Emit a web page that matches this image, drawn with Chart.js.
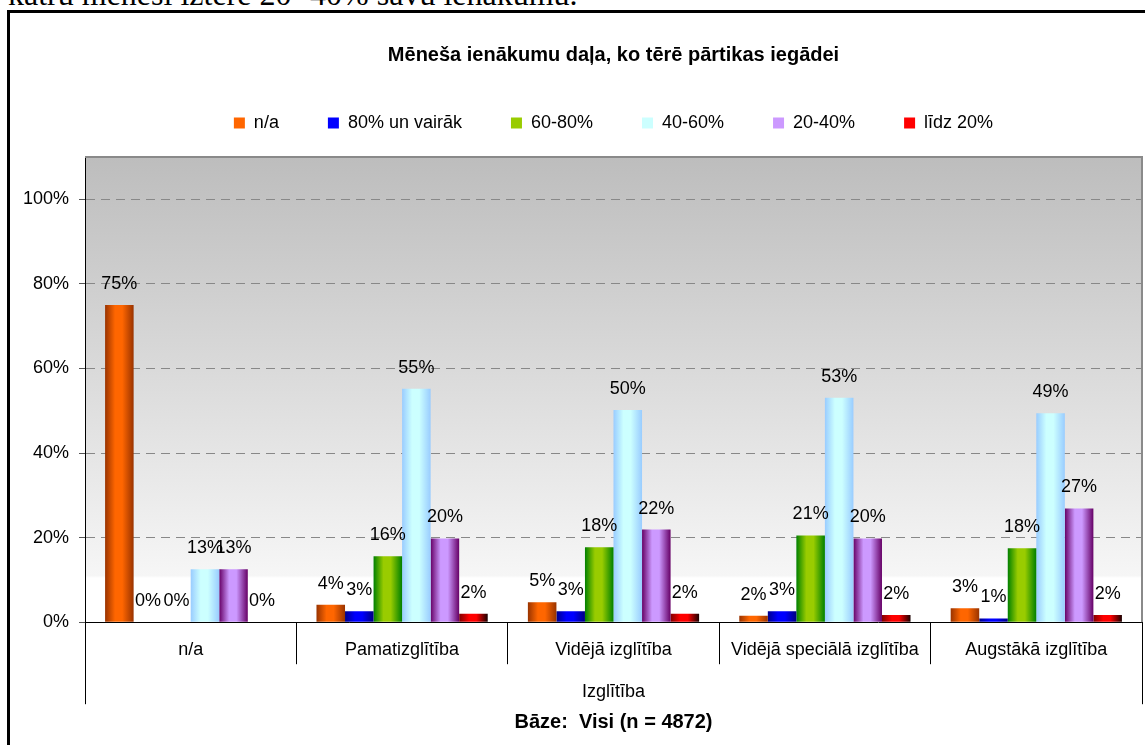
<!DOCTYPE html>
<html>
<head>
<meta charset="utf-8">
<script src="https://cdn.jsdelivr.net/npm/chart.js@4.4.0/dist/chart.umd.min.js"></script>
<style>
    html, body { margin: 0; padding: 0; background: #fff; overflow: hidden; }
    .doc-line { position: absolute; left: 8px; top: -22px; font: 32px/32px "Liberation Serif", "Times New Roman", serif; white-space: nowrap; color: #000; }
    .frame { position: absolute; left: 7px; top: 10px; width: 1200px; height: 800px; border-left: 3px solid #000; border-top: 3px solid #000; pointer-events: none; z-index: 2; }
    .chart-wrap { position: absolute; left: 0; top: 0; width: 1145px; height: 745px; }
</style>
</head>
<body>
<div class="doc-line">katru mēnesī iztērē 20- 40% savu ienākumu.</div>
<div class="frame"></div>
<div class="chart-wrap"><canvas id="foodShareChart"></canvas></div>
<script>
const categories = ['n/a', 'Pamatizglītība', 'Vidējā izglītība', 'Vidējā speciālā izglītība', 'Augstākā izglītība'];
const seriesNames = ['n/a', '80% un vairāk', '60-80%', '40-60%', '20-40%', 'līdz 20%'];
const naValues = [75, 4.1, 4.7, 1.5, 3.3];
const over80Values = [0, 2.6, 2.6, 2.6, 0.9];
const from60to80Values = [0, 15.6, 17.7, 20.5, 17.5];
const from40to60Values = [12.5, 55.2, 50.2, 53.1, 49.4];
const from20to40Values = [12.5, 19.8, 21.9, 19.8, 26.9];
const under20Values = [0, 2.0, 2.0, 1.7, 1.7];
const yTicks = [0, 20, 40, 60, 80, 100];

const seriesValues = [naValues, over80Values, from60to80Values, from40to60Values, from20to40Values, under20Values];

// left edge, middle, right edge of each cylinder-like bar
const shades = [
    ['#993300', '#ff6600', '#993300'],
    ['#00008b', '#0000ff', '#000080'],
    ['#008000', '#99cc00', '#008000'],
    ['#99ccff', '#ccffff', '#99ccff'],
    ['#660066', '#cc99ff', '#660066'],
    ['#800000', '#ff0000', '#1a0000']
];

Chart.defaults.font.family = '"Liberation Sans", Arial, sans-serif';
Chart.defaults.color = '#000';

const legendGap = {
    id: 'legendGap',
    beforeInit(chart) {
        const fit = chart.legend.fit;
        chart.legend.fit = function () {
            fit.call(this);
            this.height += 15;
        };
    }
};

const plotDecor = {
    id: 'plotDecor',
    beforeDraw(chart) {
        const { ctx, chartArea: a } = chart;
        const g = ctx.createLinearGradient(0, a.top, 0, a.bottom);
        g.addColorStop(0, '#bdbdbd');
        g.addColorStop(0.9, '#f6f6f6');
        g.addColorStop(0.905, '#ffffff');
        g.addColorStop(1, '#ffffff');
        ctx.save();
        ctx.fillStyle = g;
        ctx.fillRect(a.left, a.top, a.right - a.left, a.bottom - a.top);
        ctx.restore();
    },
    beforeDatasetsDraw(chart) {
        const { ctx, chartArea: a } = chart;
        ctx.save();
        ctx.strokeStyle = '#8a8a8a';
        ctx.lineWidth = 2;
        ctx.beginPath();
        ctx.moveTo(a.left, a.top);
        ctx.lineTo(a.right, a.top);
        ctx.lineTo(a.right, a.bottom);
        ctx.stroke();
        ctx.restore();

        // horizontal shading on each bar
        chart.data.datasets.forEach((ds, i) => {
            const s = shades[i];
            chart.getDatasetMeta(i).data.forEach(bar => {
                const x0 = bar.x - bar.width / 2;
                const g = ctx.createLinearGradient(x0, 0, x0 + bar.width, 0);
                g.addColorStop(0, s[0]);
                g.addColorStop(0.35, s[1]);
                g.addColorStop(0.6, s[1]);
                g.addColorStop(1, s[2]);
                bar.options = Object.assign({}, bar.options, { backgroundColor: g });
            });
        });
    },
    afterDatasetsDraw(chart) {
        const { ctx } = chart;
        ctx.save();
        ctx.font = '18px "Liberation Sans", Arial, sans-serif';
        ctx.fillStyle = '#000';
        ctx.textAlign = 'center';
        ctx.textBaseline = 'middle';
        chart.data.datasets.forEach((ds, i) => {
            chart.getDatasetMeta(i).data.forEach((bar, j) => {
                ctx.fillText(Math.round(ds.data[j]) + '%', bar.x, bar.y - 21);
            });
        });
        ctx.restore();
    },
    afterDraw(chart) {
        // outer level of the category axis
        const { ctx, chartArea: a } = chart;
        ctx.save();
        ctx.strokeStyle = '#000';
        ctx.lineWidth = 1;
        ctx.beginPath();
        [a.left, a.right].forEach(x => {
            const px = Math.round(x) + 0.5;
            ctx.moveTo(px, a.bottom);
            ctx.lineTo(px, a.bottom + 82);
        });
        ctx.stroke();
        ctx.restore();
    }
};

new Chart(document.getElementById('foodShareChart'), {
    type: 'bar',
    data: {
        labels: categories,
        datasets: seriesNames.map((name, i) => ({
            label: name,
            data: seriesValues[i],
            backgroundColor: shades[i][1],
            borderWidth: 0,
            categoryPercentage: 0.81,
            barPercentage: 1
        }))
    },
    options: {
        responsive: true, maintainAspectRatio: false, animation: false,
        layout: { padding: { left: 0, right: 3, top: 0, bottom: 0 } },
        plugins: {
            title: {
                display: true, fullSize: false,
                text: 'Mēneša ienākumu daļa, ko tērē pārtikas iegādei',
                font: { size: 20, weight: 'bold', lineHeight: 1 },
                padding: { top: 45, bottom: 0 }
            },
            legend: {
                fullSize: false,
                labels: { boxWidth: 11, boxHeight: 11, padding: 49, font: { size: 18 } }
            },
            subtitle: {
                display: true, position: 'bottom', fullSize: false,
                text: 'Bāze:  Visi (n = 4872)',
                font: { size: 20, weight: 'bold', lineHeight: 1.2 },
                padding: { top: 3, bottom: 11 }
            },
            tooltip: { enabled: false }
        },
        scales: {
            x: {
                grid: { display: true, drawOnChartArea: false, tickLength: 42, color: '#000' },
                border: { color: '#000' },
                ticks: { padding: -25, font: { size: 18 }, maxRotation: 0, minRotation: 0, autoSkip: false },
                title: { display: true, text: 'Izglītība', font: { size: 18 }, padding: { top: 45.6, bottom: 4 } }
            },
            y: {
                min: 0, max: 110,
                afterBuildTicks: s => { s.ticks = yTicks.map(v => ({ value: v })); },
                afterFit: s => { s.width = 85; },
                ticks: { callback: v => v + '%', padding: 10, font: { size: 18 } },
                grid: { color: '#888', tickLength: 6, tickColor: '#555' },
                border: { color: '#000', dash: [9, 6] }
            }
        }
    },
    plugins: [legendGap, plotDecor]
});
</script>
</body>
</html>
